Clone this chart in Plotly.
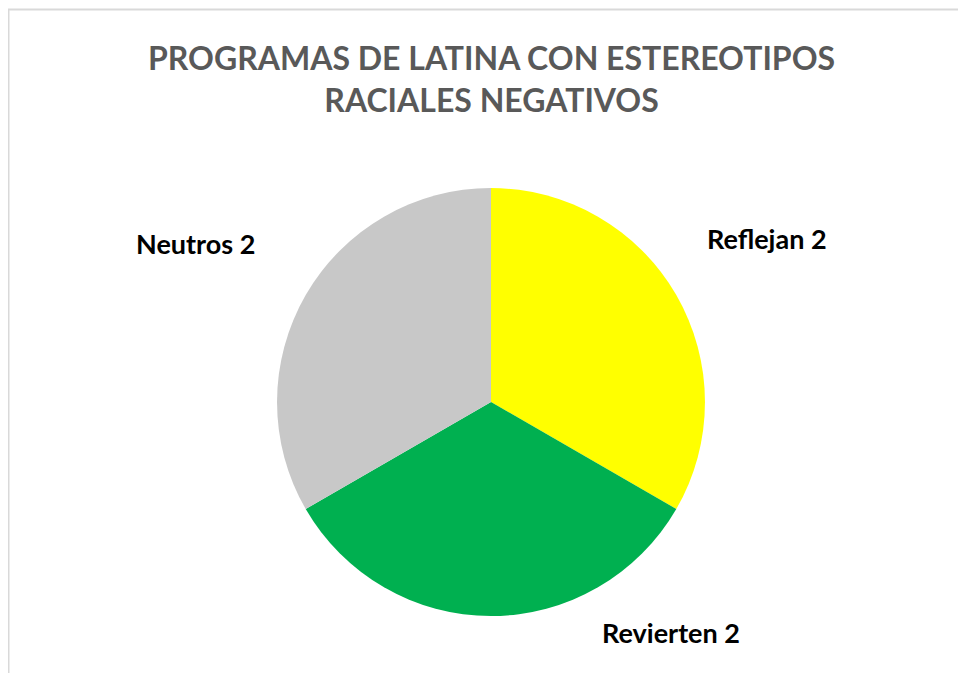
import plotly.graph_objects as go

labels = ["Reflejan", "Revierten", "Neutros"]
values = [2, 2, 2]
colors = ["#FFFF00", "#00B050", "#C8C8C8"]

# label anchor points (paper coords) placed like the original outside labels
label_x = [0.7857, 0.6863, 0.1946]
label_y = [0.6582, 0.0728, 0.6508]

fig = go.Figure(go.Pie(
    labels=labels,
    values=values,
    marker=dict(colors=colors, line=dict(width=0)),
    sort=False,
    direction="clockwise",
    rotation=0,
    textinfo="none",
    hoverinfo="label+value",
    domain=dict(x=[0.2785, 0.7215], y=[0.0966, 0.7325]),
    showlegend=False,
))

for lab, val, x, y in zip(labels, values, label_x, label_y):
    fig.add_annotation(
        x=x, y=y, xref="paper", yref="paper",
        xanchor="center", yanchor="middle",
        text="<b>%s %d</b>" % (lab, val),
        showarrow=False,
        font=dict(family="Lato", size=27, color="#000000"),
    )

fig.add_annotation(
    x=0.5, y=0.8952, xref="paper", yref="paper",
    xanchor="center", yanchor="middle",
    text="<b>PROGRAMAS DE LATINA CON ESTEREOTIPOS<br>RACIALES NEGATIVOS</b>",
    showarrow=False,
    font=dict(family="Lato", size=32, color="#595959"),
)

# chart frame (left and top edges visible)
fig.add_shape(type="line", xref="paper", yref="paper",
              x0=0, x1=1, y0=1 - 1.5 / 673, y1=1 - 1.5 / 673,
              line=dict(color="#D9D9D9", width=2))
fig.add_shape(type="line", xref="paper", yref="paper",
              x0=0.5 / 966, x1=0.5 / 966, y0=0, y1=1 - 1.5 / 673,
              line=dict(color="#D9D9D9", width=2))

fig.update_layout(
    width=966,
    height=673,
    margin=dict(l=0, r=0, t=0, b=0),
    paper_bgcolor="white",
    plot_bgcolor="white",
)

fig.write_html("out.html")
